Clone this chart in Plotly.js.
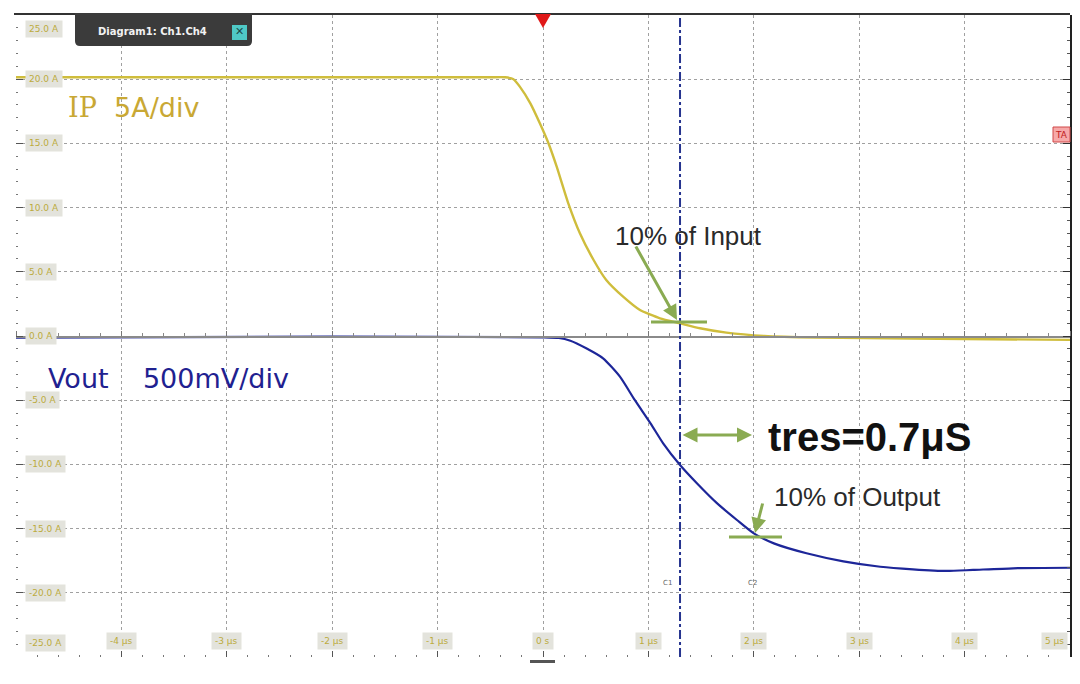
<!DOCTYPE html>
<html>
<head>
<meta charset="utf-8">
<script src="https://cdn.plot.ly/plotly-3.0.1.min.js"></script>
<style>html,body{margin:0;padding:0;background:#fff;}#chart{width:1080px;height:684px;}</style>
</head>
<body>
<div id="chart"></div>
<script>
// ---- data (time in µs) ----
const ipTime = [-5, -2, -1, -0.5, -0.36, -0.28, -0.22, -0.12, -0.03, 0.05, 0.13, 0.24, 0.35, 0.48, 0.60, 0.76, 0.92, 1.11, 1.30, 1.49, 1.74, 2.1, 2.6, 3.5, 5];
const ipAmps = [20.15, 20.15, 20.15, 20.15, 20.15, 20.0, 19.42, 18.12, 16.57, 15.05, 13.19, 10.33, 8.0, 5.92, 4.36, 3.06, 2.02, 1.38, 0.99, 0.60, 0.26, 0.0, -0.12, -0.2, -0.3];
const voutTime = [-5, -2, 0, 0.15, 0.26, 0.41, 0.57, 0.73, 0.87, 1.02, 1.14, 1.30, 1.46, 1.65, 1.84, 2.00, 2.19, 2.5, 2.85, 3.20, 3.51, 3.83, 4.08, 4.46, 5.0];
const voutVolts = [-0.012, -0.005, -0.01, -0.015, -0.037, -0.096, -0.174, -0.317, -0.498, -0.680, -0.836, -1.005, -1.147, -1.302, -1.433, -1.537, -1.615, -1.692, -1.755, -1.797, -1.817, -1.830, -1.822, -1.809, -1.805];
const timeTicks = [-4, -3, -2, -1, 0, 1, 2, 3, 4, 5];
const timeTickText = ['-4 µs', '-3 µs', '-2 µs', '-1 µs', '0 s', '1 µs', '2 µs', '3 µs', '4 µs', '5 µs'];
const ampTicks = [25, 20, 15, 10, 5, 0, -5, -10, -15, -20, -25];
const ampTickText = ['25.0 A', '20.0 A', '15.0 A', '10.0 A', '5.0 A', '0.0 A', '-5.0 A', '-10.0 A', '-15.0 A', '-20.0 A', '-25.0 A'];
const cursorTime = 1.30;

// ---- pixel helpers for decorations ----
const L = 16, R = 1070, T = 15, B = 657;
const px = x => (x - L) / (R - L);
const py = y => (B - y) / (B - T);

const green = '#8aab52';
const tickLblBg = '#e3e3dc';
const tickLblCol = '#bcab3c';

const traces = [
  {x: ipTime, y: ipAmps, xaxis: 'x', yaxis: 'y', type: 'scatter', mode: 'lines',
   line: {color: '#cfbd3c', width: 2.4, shape: 'spline', smoothing: 0.5}, hoverinfo: 'skip'},
  {x: voutTime, y: voutVolts, xaxis: 'x2', yaxis: 'y2', type: 'scatter', mode: 'lines',
   line: {color: '#1d2699', width: 2.2, shape: 'spline', smoothing: 0.6}, hoverinfo: 'skip'}
];

const annotations = [];
timeTicks.forEach((t, i) => {
  const last = i === timeTicks.length - 1;
  annotations.push({xref: 'x', yref: 'paper', x: last ? 4.98 : t, y: py(641), xanchor: last ? 'right' : 'center', yanchor: 'middle',
    text: timeTickText[i], showarrow: false, bgcolor: tickLblBg, borderpad: 3,
    font: {family: 'DejaVu Sans', size: 9, color: tickLblCol}});
});
ampTicks.forEach((a, i) => {
  const ya = i === 0 ? 'top' : (i === ampTicks.length - 1 ? 'bottom' : 'middle');
  annotations.push({xref: 'paper', yref: 'y', x: px(25), y: i === 0 ? 24.6 : (i === ampTicks.length - 1 ? -24.6 : a), xanchor: 'left', yanchor: ya,
    text: ampTickText[i], showarrow: false, bgcolor: tickLblBg, borderpad: 3,
    font: {family: 'DejaVu Sans', size: 9, color: tickLblCol}});
});
annotations.push(
  {xref: 'paper', yref: 'paper', x: px(66), y: py(107), xanchor: 'left', yanchor: 'middle', showarrow: false,
   text: '<span style="font-family:DejaVu Serif">IP</span>  5A/div', font: {family: 'DejaVu Sans', size: 27, color: '#c9a834'}},
  {xref: 'paper', yref: 'paper', x: px(46), y: py(378), xanchor: 'left', yanchor: 'middle', showarrow: false,
   text: 'Vout    500mV/div', font: {family: 'DejaVu Sans', size: 27, color: '#1f2190'}},
  {xref: 'paper', yref: 'paper', x: px(688), y: py(236), xanchor: 'center', yanchor: 'middle', showarrow: false,
   text: '10% of Input', font: {family: 'Liberation Sans', size: 26, color: '#2a2a2a'}},
  {xref: 'paper', yref: 'paper', x: px(870), y: py(437), xanchor: 'center', yanchor: 'middle', showarrow: false,
   text: '<b>tres=0.7μS</b>', font: {family: 'Liberation Sans', size: 40, color: '#111'}},
  {xref: 'paper', yref: 'paper', x: px(857), y: py(497), xanchor: 'center', yanchor: 'middle', showarrow: false,
   text: '10% of Output', font: {family: 'Liberation Sans', size: 26, color: '#2a2a2a'}},
  // arrows
  {xref: 'paper', yref: 'paper', x: px(677), y: py(320), ax: -42, ay: -75, text: '', showarrow: true,
   arrowhead: 2, arrowsize: 1, arrowwidth: 3, arrowcolor: green},
  {xref: 'paper', yref: 'paper', x: px(752), y: py(435), ax: -71, ay: 0, text: '', showarrow: true,
   arrowhead: 2, startarrowhead: 2, arrowside: 'end+start', arrowsize: 1, arrowwidth: 3, arrowcolor: green},
  {xref: 'paper', yref: 'paper', x: px(755), y: py(533), ax: 8, ay: -31, text: '', showarrow: true,
   arrowhead: 2, arrowsize: 1, arrowwidth: 3, arrowcolor: green},
  // tab
  {xref: 'paper', yref: 'paper', x: px(152), y: py(32), xanchor: 'center', yanchor: 'middle', showarrow: false,
   text: '<b>Diagram1: Ch1.Ch4</b>', font: {family: 'DejaVu Sans', size: 10, color: '#f2f2f2'}},
  {xref: 'paper', yref: 'paper', x: px(239.5), y: py(32), xanchor: 'center', yanchor: 'middle', showarrow: false,
   text: '<b>✕</b>', font: {family: 'DejaVu Sans', size: 11, color: '#1d4a4a'}},
  {xref: 'paper', yref: 'paper', x: px(1061.5), y: py(134.5), xanchor: 'center', yanchor: 'middle', showarrow: false,
   text: 'TA', font: {family: 'DejaVu Sans', size: 9, color: '#c02020'}},
  {xref: 'paper', yref: 'paper', x: px(667), y: py(583), xanchor: 'center', yanchor: 'middle', showarrow: false,
   text: 'C1', font: {family: 'DejaVu Sans', size: 7, color: '#666'}},
  {xref: 'paper', yref: 'paper', x: px(752), y: py(583), xanchor: 'center', yanchor: 'middle', showarrow: false,
   text: 'C2', font: {family: 'DejaVu Sans', size: 7, color: '#666'}}
);

const shapes = [
  // cursor
  {type: 'line', xref: 'x', yref: 'paper', x0: cursorTime, x1: cursorTime, y0: 0, y1: 1,
   line: {color: '#26348f', width: 2, dash: 'dashdot'}},
  // top frame
  {type: 'line', xref: 'paper', yref: 'paper', x0: px(14), x1: 1, y0: py(14), y1: py(14), line: {color: '#333', width: 2}},
  // percent markers
  {type: 'line', xref: 'paper', yref: 'paper', x0: px(651), x1: px(707), y0: py(322), y1: py(322), line: {color: green, width: 3}},
  {type: 'line', xref: 'paper', yref: 'paper', x0: px(729), x1: px(782), y0: py(537), y1: py(537), line: {color: green, width: 3}},
  // tab
  {type: 'path', xref: 'paper', yref: 'paper',
   path: `M ${px(75)},${py(13)} L ${px(252)},${py(13)} L ${px(252)},${py(41)} Q ${px(252)},${py(46)} ${px(247)},${py(46)} L ${px(80)},${py(46)} Q ${px(75)},${py(46)} ${px(75)},${py(41)} Z`,
   fillcolor: '#3b3b3b', line: {width: 0}},
  {type: 'rect', xref: 'paper', yref: 'paper', x0: px(232), x1: px(247), y0: py(25), y1: py(40), fillcolor: '#4fc9c6', line: {width: 0}},
  // trigger marker
  {type: 'path', xref: 'paper', yref: 'paper',
   path: `M ${px(535)},${py(14)} L ${px(551)},${py(14)} L ${px(543)},${py(28)} Z`, fillcolor: '#e01818', line: {width: 0}},
  // TA box
  {type: 'rect', xref: 'paper', yref: 'paper', x0: px(1053), x1: px(1070), y0: py(127), y1: py(142), fillcolor: '#f6a9a9', line: {color: '#d04848', width: 1}},
  // bottom position marker
  {type: 'rect', xref: 'paper', yref: 'paper', x0: px(530), x1: px(555), y0: py(660), y1: py(663), fillcolor: '#555', line: {width: 0}}
];

const grid = {showgrid: true, gridcolor: '#a0a0a0', gridwidth: 1, griddash: '3px,3px'};

const layout = {
  width: 1080, height: 684,
  margin: {l: L, r: 1080 - R, t: T, b: 684 - B},
  paper_bgcolor: '#fff', plot_bgcolor: '#fff',
  showlegend: false,
  xaxis: Object.assign({range: [-5, 5], dtick: 1, tick0: 0, zeroline: false, showline: false,
    ticks: 'inside', ticklen: 6, tickcolor: '#555', showticklabels: false,
    minor: {ticks: 'inside', ticklen: 2, dtick: 0.2, tickcolor: '#777', showgrid: false}, fixedrange: true}, grid),
  yaxis: Object.assign({range: [-25, 25], dtick: 5, tick0: 0, zeroline: false, showline: false,
    ticks: 'inside', ticklen: 7, tickcolor: '#555', showticklabels: false,
    minor: {ticks: 'inside', ticklen: 2, dtick: 1, tickcolor: '#777', showgrid: false}, fixedrange: true}, grid),
  xaxis2: {overlaying: 'x', anchor: 'free', position: 0.5, side: 'top', range: [-5, 5], dtick: 1, tick0: 0,
    showgrid: false, zeroline: false, showline: true, linecolor: '#8a8a8a', linewidth: 1.5,
    ticks: 'outside', ticklen: 5, tickcolor: '#777', showticklabels: false,
    minor: {ticks: 'outside', ticklen: 3, dtick: 0.2, tickcolor: '#888'}, fixedrange: true},
  yaxis2: {overlaying: 'y', side: 'right', anchor: 'x', range: [-2.5, 2.5], dtick: 0.5, tick0: 0,
    showgrid: false, zeroline: false, showline: true, linecolor: '#222', linewidth: 2,
    ticks: 'inside', ticklen: 7, tickcolor: '#333', showticklabels: false,
    minor: {ticks: 'inside', ticklen: 3, dtick: 0.1, tickcolor: '#555'}, fixedrange: true},
  yaxis3: {overlaying: 'y', anchor: 'free', position: 0.5, side: 'left', range: [-25, 25], dtick: 5, tick0: 0,
    showgrid: false, zeroline: false, showline: false,
    ticks: 'outside', ticklen: 5, tickcolor: '#666', showticklabels: false,
    minor: {ticks: 'outside', ticklen: 3, dtick: 1, tickcolor: '#777'}, fixedrange: true},
  yaxis4: {overlaying: 'y', anchor: 'free', position: 0.5, side: 'right', range: [-25, 25], dtick: 5, tick0: 0,
    showgrid: false, zeroline: false, showline: false,
    ticks: 'outside', ticklen: 5, tickcolor: '#666', showticklabels: false,
    minor: {ticks: 'outside', ticklen: 3, dtick: 1, tickcolor: '#777'}, fixedrange: true},
  shapes: shapes,
  annotations: annotations
};

Plotly.newPlot('chart', traces, layout, {staticPlot: true, displayModeBar: false});
</script>
</body>
</html>
